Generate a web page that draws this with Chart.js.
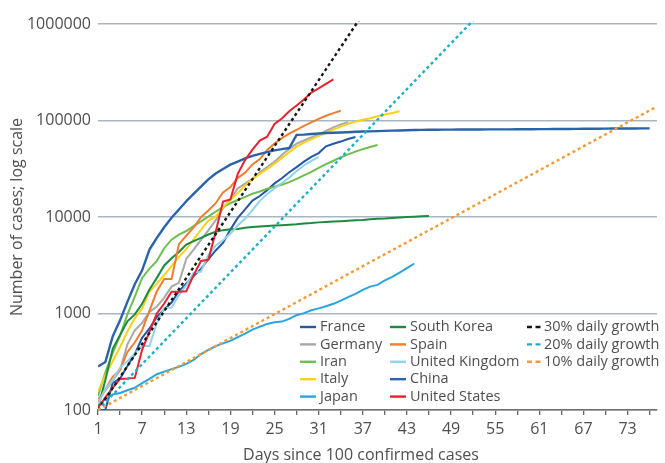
<!DOCTYPE html>
<html>
<head>
<meta charset="utf-8">
<title>Days since 100 confirmed cases</title>
<script src="https://cdn.jsdelivr.net/npm/chart.js@4/dist/chart.umd.min.js"></script>
<style>
  html, body { margin: 0; padding: 0; background: #ffffff; }
  #wrap { width: 665px; height: 463px; position: relative; }
</style>
</head>
<body>
<div id="wrap"><canvas id="chart" width="665" height="463"></canvas></div>
<script>
// ---- data: confirmed cases per day, day 1 = first day with 100+ cases ----
const seriesNames = ['France', 'Germany', 'Iran', 'Italy', 'Japan', 'South Korea', 'Spain', 'United Kingdom', 'China', 'United States'];

const france = [100, 100, 191, 212, 285, 380, 560, 700, 920, 1100, 1300, 1700, 2050, 2450, 2900, 3650, 4500, 5400, 7400, 9800,
  12000, 14800, 16500, 19000, 22300, 25200, 29100, 32900, 37500, 42000, 46000, 54000, 57500, 60500, 64300, 67500];
const germany = [130, 160, 200, 260, 480, 670, 800, 1040, 1180, 1460, 1900, 2080, 3680, 4590, 5800, 7270, 9260, 12300, 15300, 19800,
  22200, 24900, 29100, 33000, 37300, 43900, 50900, 57700, 62100, 66900, 71800, 77900, 84800, 91200, 96100];
const iran = [140, 245, 390, 590, 980, 1500, 2340, 2920, 3510, 4750, 5820, 6570, 7160, 8040, 9000, 10100, 11400, 12700, 13900, 15000,
  16200, 17400, 18400, 19600, 20600, 21600, 23000, 24800, 27000, 29400, 32300, 35400, 38300, 41500, 44600, 47600, 50500, 53200, 55700];
const italy = [155, 230, 320, 450, 650, 890, 1130, 1690, 2040, 2500, 3090, 3860, 4640, 5880, 7380, 9170, 10100, 12500, 15100, 17700,
  21200, 24700, 28000, 31500, 35700, 41000, 47000, 53600, 59100, 63900, 69200, 74400, 80600, 86500, 92500, 97700, 101700, 105800,
  110600, 115200, 119800, 124600];
const japan = [110, 130, 145, 150, 160, 170, 190, 210, 235, 250, 265, 280, 300, 330, 380, 420, 460, 490, 520, 570,
  620, 680, 730, 780, 810, 825, 880, 960, 1010, 1080, 1130, 1190, 1260, 1360, 1480, 1600, 1760, 1900, 1980, 2200,
  2400, 2650, 2950, 3300];
const southKorea = [105, 205, 430, 600, 830, 980, 1260, 1770, 2340, 3150, 3740, 4340, 5190, 5620, 6090, 6590, 7040, 7310, 7480, 7510,
  7760, 7870, 7980, 8090, 8160, 8240, 8320, 8410, 8570, 8650, 8800, 8900, 8960, 9040, 9140, 9240, 9330, 9480, 9580, 9660,
  9790, 9890, 9980, 10060, 10160, 10240];
const spain = [120, 165, 220, 260, 400, 500, 670, 1070, 1700, 2280, 2280, 5230, 6390, 7800, 9940, 11700, 13900, 18000, 20400, 25400,
  28800, 35100, 39900, 49500, 57800, 65700, 73200, 80100, 88000, 95900, 104100, 112100, 119200, 126200];
const unitedKingdom = [115, 165, 205, 275, 320, 385, 460, 460, 800, 1140, 1150, 1550, 1960, 2640, 2720, 4010, 5070, 5750, 6730, 8160,
  9640, 11800, 14700, 17300, 19800, 22500, 25500, 29900, 34200, 38200, 41900];
const china = [282, 314, 580, 850, 1320, 2010, 2800, 4590, 6070, 7820, 9830, 11950, 14560, 17390, 20630, 24550, 28280, 31480, 34890, 37560,
  40550, 43100, 45170, 47000, 49050, 50580, 51860, 71000, 71500, 72400, 73400, 74200, 74700, 75200, 75700, 76400, 76900, 77200, 77700, 78100,
  78500, 78800, 79200, 79800, 80000, 80200, 80300, 80400, 80500, 80600, 80700, 80750, 80800, 80900, 80950, 81000, 81050, 81100, 81200, 81300,
  81350, 81500, 81600, 81650, 81750, 81900, 82050, 82150, 82300, 82400, 82550, 82650, 82700, 82800, 82850, 82900];
const unitedStates = [105, 135, 170, 210, 212, 215, 420, 650, 1000, 1270, 1680, 1680, 1700, 2500, 3500, 3600, 7000, 14500, 15200, 28000,
  39000, 50000, 62000, 68000, 92000, 105000, 125000, 143000, 165000, 195000, 215000, 240000, 267000];

// reference growth lines: start at 100 cases on day 1
const growthNames = ['30% daily growth', '20% daily growth', '10% daily growth'];
const growth30Days = [1, 37];
const growth30Cases = [100, 1263800];
const growth20Days = [1, 53];
const growth20Cases = [100, 1310000];
const growth10Days = [1, 77];
const growth10Cases = [100, 139900];

// axis ticks and titles
const dayTicks = [1, 4, 7, 10, 13, 16, 19, 22, 25, 28, 31, 34, 37, 40, 43, 46, 49, 52, 55, 58, 61, 64, 67, 70, 73, 76];
const dayTickLabels = ['1', '7', '13', '19', '25', '31', '37', '43', '49', '55', '61', '67', '73'];
const caseTicks = [100, 1000, 10000, 100000, 1000000];
const xTitle = 'Days since 100 confirmed cases';
const yTitle = 'Number of cases; log scale';

// ---- styling ----
const seriesColors = {
  'France': '#2457a6',
  'Germany': '#a8a8a8',
  'Iran': '#6cbf4c',
  'Italy': '#f8d21a',
  'Japan': '#29a4de',
  'South Korea': '#1c8a3f',
  'Spain': '#ef7e32',
  'United Kingdom': '#92d3ea',
  'China': '#2a62ad',
  'United States': '#e8222f'
};
const growthColors = ['#151515', '#19b0c6', '#f59a35'];
const FONT = '"Open Sans", "Noto Sans", sans-serif';
const TEXT = '#4f4f4f';

const countrySeries = [france, germany, iran, italy, japan, southKorea, spain, unitedKingdom, china, unitedStates];
const toPoints = values => values.map((v, i) => ({ x: i + 1, y: v }));
const pair = (xs, ys) => xs.map((x, i) => ({ x: x, y: ys[i] }));

const datasets = [];
seriesNames.forEach((name, i) => {
  datasets.push({
    label: name,
    data: toPoints(countrySeries[i]),
    borderColor: seriesColors[name],
    backgroundColor: seriesColors[name],
    borderWidth: name === 'China' ? 2.4 : 2,
    pointRadius: 0,
    tension: 0,
    fill: false,
    dashed: false
  });
});
[[growth30Days, growth30Cases], [growth20Days, growth20Cases], [growth10Days, growth10Cases]].forEach((g, i) => {
  datasets.push({
    label: growthNames[i],
    data: pair(g[0], g[1]),
    borderColor: growthColors[i],
    backgroundColor: growthColors[i],
    borderWidth: 2.4,
    borderDash: [3, 3],
    pointRadius: 0,
    tension: 0,
    fill: false,
    dashed: true
  });
});
// later series are painted above earlier ones
datasets.forEach((d, i) => { d.order = datasets.length - i; });

// axis titles, placed by hand
const axisTitles = {
  id: 'axisTitles',
  afterDraw(chart) {
    const ctx = chart.ctx;
    ctx.save();
    ctx.font = '16px ' + FONT;
    ctx.fillStyle = TEXT;
    ctx.textAlign = 'center';
    ctx.textBaseline = 'middle';
    ctx.fillText(xTitle, 361, 455);
    ctx.translate(17.5, 217);
    ctx.rotate(-Math.PI / 2);
    ctx.fillText(yTitle, 0, 0);
    ctx.restore();
  }
};

// three-column legend, filled top to bottom
const gridLegend = {
  id: 'gridLegend',
  afterDraw(chart) {
    const ctx = chart.ctx;
    const cols = [
      { x0: 300, x1: 316, tx: 320 },
      { x0: 390, x1: 406, tx: 410 },
      { x0: 527, x1: 541, tx: 544 }
    ];
    const rowY0 = 327, rowStep = 17.4, perCol = 5;
    ctx.save();
    ctx.font = '14.5px ' + FONT;
    ctx.textBaseline = 'middle';
    ctx.textAlign = 'left';
    chart.data.datasets.forEach((ds, i) => {
      const col = cols[Math.floor(i / perCol)];
      const y = rowY0 + (i % perCol) * rowStep;
      ctx.beginPath();
      ctx.strokeStyle = ds.borderColor;
      ctx.lineWidth = 2.4;
      ctx.setLineDash(ds.dashed ? [5, 3.5] : []);
      ctx.moveTo(col.x0, y);
      ctx.lineTo(col.x1, y);
      ctx.stroke();
      ctx.setLineDash([]);
      ctx.fillStyle = TEXT;
      ctx.fillText(ds.label, col.tx, y);
    });
    ctx.restore();
  }
};

new Chart(document.getElementById('chart'), {
  type: 'line',
  data: { datasets: datasets },
  options: {
    responsive: false,
    animation: false,
    devicePixelRatio: 1,
    layout: { padding: { top: 21, right: 8, bottom: 0, left: 0 } },
    plugins: { legend: { display: false }, tooltip: { enabled: false } },
    scales: {
      x: {
        type: 'linear',
        bounds: 'data',
        min: 1,
        max: 77,
        afterBuildTicks: scale => { scale.ticks = dayTicks.map(v => ({ value: v })); },
        afterFit: scale => { scale.height = 53; },
        ticks: {
          autoSkip: false,
          maxRotation: 0,
          padding: 5,
          color: TEXT,
          font: { family: FONT, size: 16 },
          callback: v => (dayTickLabels.includes(String(v)) ? String(v) : '')
        },
        grid: { drawOnChartArea: false, drawTicks: true, tickLength: 5, color: '#666666', lineWidth: 1.3 },
        border: { display: true, color: '#6f6f6f', width: 1.5 },
        title: { display: false }
      },
      y: {
        type: 'logarithmic',
        bounds: 'data',
        min: 100,
        max: 1075000,
        afterBuildTicks: scale => { scale.ticks = caseTicks.map(v => ({ value: v })); },
        afterFit: scale => { scale.width = 98; },
        ticks: {
          padding: 7,
          color: TEXT,
          font: { family: FONT, size: 16 },
          callback: v => String(v)
        },
        grid: { drawTicks: false, color: '#a9b5c0', lineWidth: 1.5 },
        border: { display: false },
        title: { display: false }
      }
    }
  },
  plugins: [gridLegend, axisTitles]
});
</script>
</body>
</html>
